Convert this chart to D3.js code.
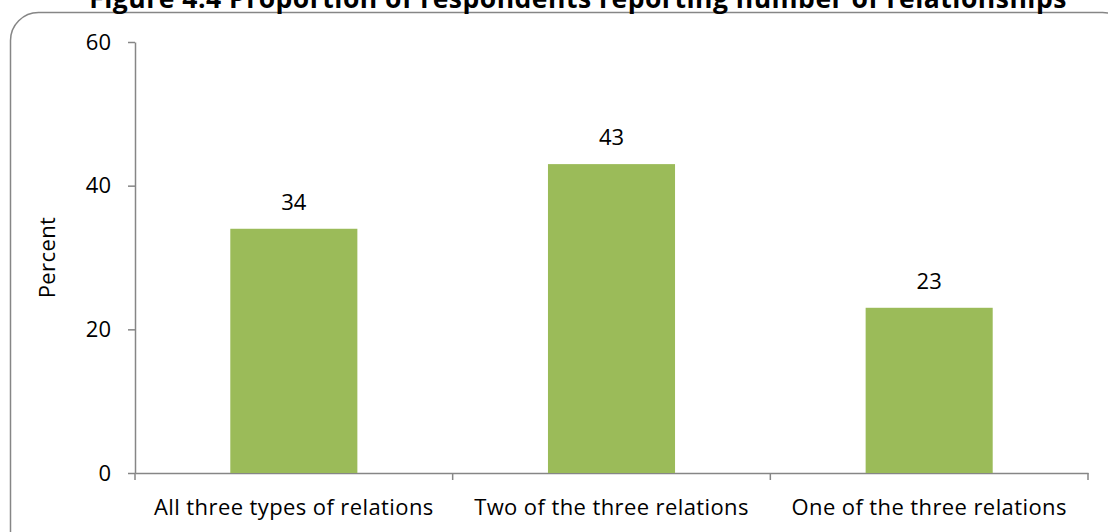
<!DOCTYPE html>
<html><head><meta charset="utf-8">
<script src="https://cdn.jsdelivr.net/npm/d3@7"></script>
<style>body{margin:0;background:#fff;}svg{display:block;font-family:"Open Sans",sans-serif;}</style>
</head><body>
<svg id="c" width="1108" height="532"></svg>
<script>
const categories = ["All three types of relations","Two of the three relations","One of the three relations"];
const values = [34, 43, 23];
const yTicks = [0, 20, 40, 60];
const title = "Figure 4.4 Proportion of respondents reporting number of relationships";
const yLabel = "Percent";

const svg = d3.select("#c");
const W = 1108, H = 532;
const m = {left:135, right:20, top:42, bottom:59};
const x = d3.scaleBand().domain(categories).range([m.left, W - m.right]).paddingInner(0.6).paddingOuter(0.3);
const xb = d3.scaleBand().domain(categories).range([m.left, W - m.right]);
const y = d3.scaleLinear().domain([0,60]).range([H - m.bottom, m.top]);
const axisColor = "#868686";
const FF = "'Open Sans',sans-serif";
const FS = 22;
const LS = 0.4;

// frame
svg.append("rect").attr("x",10.5).attr("y",12.5).attr("width",1120).attr("height",560)
  .attr("rx",28).attr("fill","none").attr("stroke",axisColor).attr("stroke-width",1.5);

// title
svg.append("text").attr("x",578).attr("y",8).attr("text-anchor","middle")
  .attr("font-size",26.5).attr("font-weight","bold").attr("letter-spacing",0.5).attr("fill","#000").text(title);

// y axis
const ya = svg.append("g").attr("transform",`translate(${m.left},0)`)
  .call(d3.axisLeft(y).tickValues(yTicks).tickSize(7).tickSizeOuter(0));
ya.select(".domain").attr("stroke",axisColor).attr("stroke-width",1.5);
ya.selectAll(".tick line").attr("stroke",axisColor).attr("stroke-width",1.5);
ya.selectAll(".tick text").attr("font-size",FS).attr("fill","#000").attr("x",-24).attr("font-family",FF);

// x axis
const xa = svg.append("g").attr("transform",`translate(0,${H - m.bottom})`)
  .call(d3.axisBottom(xb).tickSize(0).tickSizeOuter(0));
xa.select(".domain").attr("stroke",axisColor).attr("stroke-width",1.5);
xa.selectAll(".tick text").attr("font-size",FS).attr("letter-spacing",LS).attr("fill","#000").attr("dy",0).attr("y",42).attr("font-family",FF);
// boundary ticks
const bounds = categories.map(c => xb(c)).concat([xb(categories[categories.length-1]) + xb.bandwidth()]);
xa.selectAll("line.bt").data(bounds).enter().append("line").attr("class","bt")
  .attr("x1",d=>d).attr("x2",d=>d).attr("y1",0).attr("y2",7)
  .attr("stroke",axisColor).attr("stroke-width",1.5);

// bars
svg.selectAll("rect.bar").data(values).enter().append("rect").attr("class","bar")
  .attr("x",(d,i)=>x(categories[i])).attr("width",x.bandwidth())
  .attr("y",d=>y(d)).attr("height",d=>y(0)-y(d)).attr("fill","#9BBB59");

// value labels
svg.selectAll("text.val").data(values).enter().append("text").attr("class","val")
  .attr("x",(d,i)=>x(categories[i]) + x.bandwidth()/2).attr("y",d=>y(d)-19)
  .attr("text-anchor","middle").attr("font-size",FS).attr("fill","#000").text(d=>d);

// y label
svg.append("text").attr("transform",`translate(55,${(y(0)+y(60))/2}) rotate(-90)`)
  .attr("text-anchor","middle").attr("font-size",FS).attr("letter-spacing",LS).attr("fill","#000").text(yLabel);
</script>
</body></html>
